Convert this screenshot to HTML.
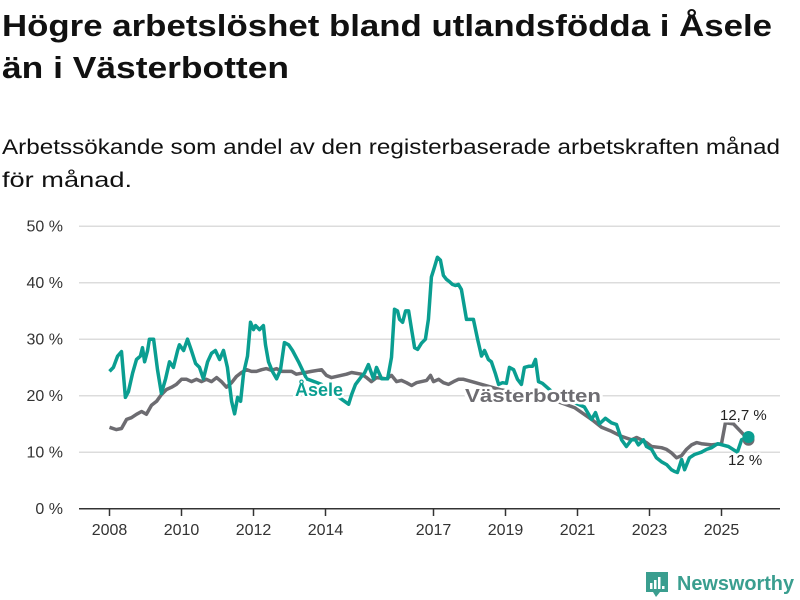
<!DOCTYPE html>
<html><head><meta charset="utf-8"><style>
body{margin:0;background:#fff;}
svg{display:block;font-family:"Liberation Sans","DejaVu Sans",sans-serif;}
</style></head><body>
<svg width="800" height="600" viewBox="0 0 800 600">
<text x="2" y="36" font-size="31" font-weight="bold" fill="#111" textLength="770" lengthAdjust="spacingAndGlyphs">Högre arbetslöshet bland utlandsfödda i Åsele</text>
<text x="2" y="78" font-size="31" font-weight="bold" fill="#111" textLength="287" lengthAdjust="spacingAndGlyphs">än i Västerbotten</text>
<text x="2" y="154" font-size="21" fill="#111" textLength="778" lengthAdjust="spacingAndGlyphs">Arbetssökande som andel av den registerbaserade arbetskraften månad</text>
<text x="2" y="187" font-size="21" fill="#111" textLength="130" lengthAdjust="spacingAndGlyphs">för månad.</text>
<g id="grid"></g><g id="axes"></g><g id="series"></g><g id="labels"></g>
<g>
<path d="M646 572 h22 v20 h-8 l-4 5 l-3 -5 h-7 z" fill="#3a9e8f"/>
<rect x="650" y="583" width="2.5" height="6" fill="#fff"/><rect x="654" y="580" width="2.5" height="9" fill="#fff"/><rect x="658" y="577" width="2.5" height="12" fill="#fff"/><rect x="662" y="586" width="2.5" height="3" fill="#fff"/>
<text x="677" y="590" font-size="20" font-weight="bold" fill="#3a9e8f" textLength="117" lengthAdjust="spacingAndGlyphs">Newsworthy</text>
</g>
</svg>
<script>
const yTicks=[0,10,20,30,40,50];
const xTickYears=[2008,2010,2012,2014,2017,2019,2021,2023,2025];
const aseleMonth=[0,1.3,2.7,4,5.3,6.3,7.7,9,10.3,11,11.7,12.7,13.3,14.7,16,17.3,18.7,20,21.3,22.7,23.3,24.7,26,27.3,28.7,30,31.3,32.7,34,35.3,36.7,38,39.3,40.7,41.7,42.7,43.7,44.7,46,47,48,48.7,50,51.3,52,53,54.3,55.7,57,58.3,59.7,61,63,65.7,70.7,75.7,79.7,80.7,82,84,85,86.3,88,89,90.7,92.7,94,95,96,96.7,97.7,98.7,99.7,100.7,101.7,102.7,104,105.3,106.3,107.3,108.3,109.3,110.3,111.3,112.3,113.3,114.3,115.3,116.3,117.3,119,121.3,122.7,124,125,126.3,127.3,128.7,129.7,131,132.3,133.3,134.7,136,137.3,138.3,139.7,141,142,143,144.3,149,154,158.3,160.7,162,163.3,165.3,167.3,169,170.7,172.3,174,175.3,176.3,178,179,180.7,182.3,184,185.7,187.3,188.3,189.3,190.7,191.7,193.3,195,197.3,199,200.7,202.7,206.3,209.3,210.7,213];
const aseleValue=[24.3,25,27,27.8,19.7,20.7,24,26.4,27,28.5,26,28,30,30,24.6,20.4,23,26,25,28,29,28,30,28,25.7,25,23,26,27.5,28,26.4,28,25,19,16.8,19.7,19,24,27,33,31.7,32.4,31.7,32.4,29,26,24.3,23,24.6,29.4,29,28,26,23,22,20,18.5,20.2,22,23.4,24,25.5,23,25,23,23,26.8,35.3,35,33.5,33,35,35,31.7,28.5,28.2,29.3,30,33.5,41,42.7,44.5,44,41.3,40.6,40.2,39.7,39.5,39.7,38.8,33.5,33.5,30,27,28,26.4,26,23.8,22,22.3,22.2,25,24.6,22.9,22,25,25.2,25.2,26.4,22.5,22.2,20,19,18,15.8,17,15,16,15.2,14.9,12.2,11,12.2,12.2,11.3,12.2,11,10.5,9,8.3,7.8,6.9,6.6,6.4,8.7,6.9,9,9.6,10,10.5,10.8,11.5,11,10,12.2,12.7];
const vbMonth=[0,2.3,4,5.7,7.3,9,10.7,12.3,14,15.7,17.3,19,20.7,22.3,24,25.7,27.3,29,30.7,32.3,34,35.7,37.3,39,40.7,42.3,44,45.7,47.3,49,50.7,52.3,54,55.7,57.3,59,60.7,62.3,67.3,70.7,72.3,74,79,80.7,84,85.7,87.3,89,92.3,94,95.7,97.3,99,100.7,102.3,104,105.7,107,108,109.7,111.3,113,114.7,116.3,118,120.7,130.7,144,155,160.7,164,167.3,170.7,174,175.7,177.3,179,180.7,184,185.7,187.3,189,190.7,192.3,194,195.7,197.3,200.7,204,205.3,208,210.7,213];
const vbValue=[14.4,14,14.2,15.8,16.1,16.7,17.2,16.7,18.3,19,20.2,21.1,21.5,22,22.9,22.9,22.5,22.9,22.5,22.9,22.5,23.2,22.5,21.5,22.3,23.4,24.1,24.6,24.3,24.3,24.6,24.8,24.5,24.8,24.3,24.3,24.3,23.8,24.3,24.6,23.6,23.2,23.8,24.1,23.8,23.2,22.5,23.2,23,23.6,22.5,22.7,22.3,21.8,22.3,22.5,22.7,23.6,22.5,22.9,22.3,22,22.5,22.9,22.9,22.5,21,20,17.9,15.8,14.4,13.7,12.8,12.2,12.6,12.2,11.7,11,10.8,10.5,9.9,9,9.4,10.5,11.3,11.7,11.5,11.3,11.5,15.2,15,13.5,12.2];
const aseleLast="12,7 %", vbLast="12 %";

const NS="http://www.w3.org/2000/svg";
const X=m=>109.5+m*3;
const Y=v=>508.7-v*5.65;
function mk(tag,attrs,parent,text){const e=document.createElementNS(NS,tag);for(const k in attrs)e.setAttribute(k,attrs[k]);if(text!==undefined)e.textContent=text;parent.appendChild(e);return e;}
const grid=document.getElementById('grid'),axes=document.getElementById('axes'),series=document.getElementById('series'),labels=document.getElementById('labels');
yTicks.forEach(v=>{
  if(v>0){const g=mk('line',{x1:79,x2:780,y1:Y(v),y2:Y(v),stroke:'#dcdcdc','stroke-width':1.5},grid);
  
  }
  const t=mk('text',{x:63,y:Y(v)+5.5,'font-size':16,fill:'#333','text-anchor':'end'},axes,v+' %');
  
  
});
const ax=mk('line',{x1:79,x2:780,y1:508.7,y2:508.7,stroke:'#333','stroke-width':1.5},axes);


xTickYears.forEach(yr=>{
  const x=X((yr-2008)*12);
  const tk=mk('line',{x1:x,x2:x,y1:509,y2:516,stroke:'#333','stroke-width':1.5},axes);
  
  
  const t=mk('text',{x:x,y:535,'font-size':16,fill:'#333','text-anchor':'middle'},axes,String(yr));
  
  
});
function pts(ms,vs){return ms.map((m,i)=>X(m).toFixed(1)+','+Y(vs[i]).toFixed(1)).join(' ');}
const lv=mk('polyline',{points:pts(vbMonth,vbValue),fill:'none',stroke:'#6d6c71','stroke-width':3.5,'stroke-linejoin':'round'},series);


const la=mk('polyline',{points:pts(aseleMonth,aseleValue),fill:'none',stroke:'#0a9e91','stroke-width':3.5,'stroke-linejoin':'round'},series);


const dv=mk('circle',{cx:X(vbMonth[vbMonth.length-1]),cy:Y(vbValue[vbValue.length-1]),r:6,fill:'#6d6c71'},series);


const da=mk('circle',{cx:X(aseleMonth[aseleMonth.length-1]),cy:Y(aseleValue[aseleValue.length-1]),r:6,fill:'#0a9e91'},series);


const halo={stroke:'#fff','stroke-width':5,'paint-order':'stroke','stroke-linejoin':'round'};
const ls=mk('text',Object.assign({x:295,y:396,'font-size':18,'font-weight':'bold',fill:'#0a9e91'},halo),labels,'Åsele');


const lvb=mk('text',Object.assign({x:465,y:402,'font-size':18,'font-weight':'bold',fill:'#6d6c71',textLength:136,lengthAdjust:'spacingAndGlyphs'},halo),labels,'Västerbotten');


const ea=mk('text',Object.assign({x:720,y:420,'font-size':15,fill:'#222'},halo),labels,aseleLast);


const ev=mk('text',Object.assign({x:728,y:465,'font-size':15,fill:'#222'},halo),labels,vbLast);


</script>
</body></html>
